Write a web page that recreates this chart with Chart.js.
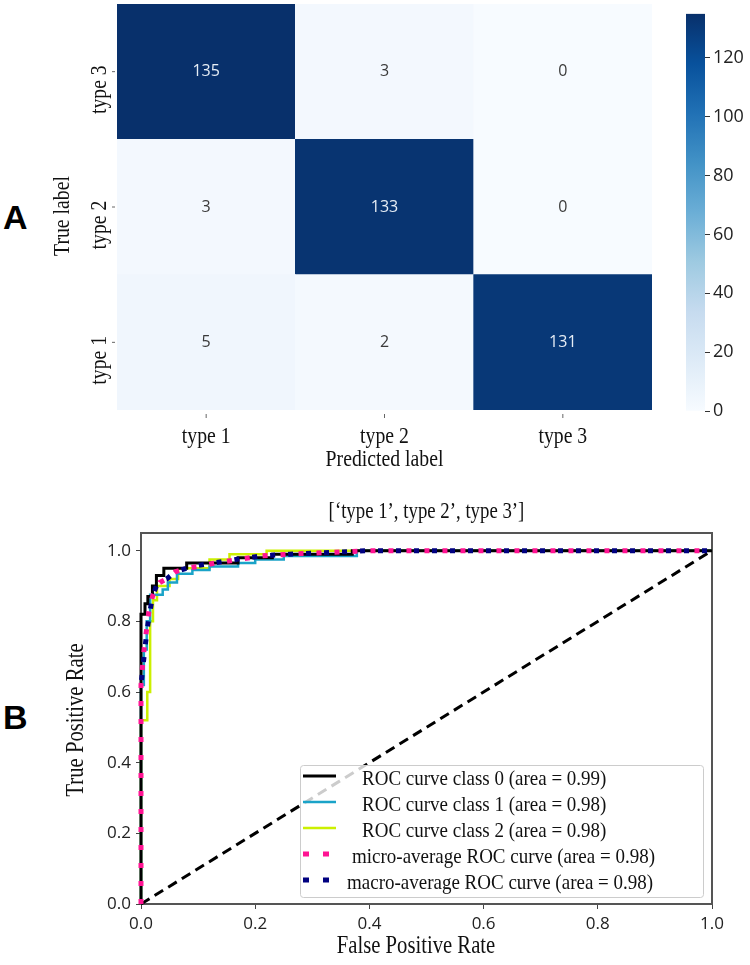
<!DOCTYPE html>
<html>
<head>
<meta charset="utf-8">
<title>Confusion matrix and ROC curves</title>
<script src="https://cdn.jsdelivr.net/npm/chart.js@4.4.1/dist/chart.umd.min.js"></script>
<style>
  html, body { margin: 0; padding: 0; background: #fff; }
  #page { position: relative; width: 750px; height: 965px; overflow: hidden; }
  #page canvas { position: absolute; }
  .panel {
    position: absolute;
    font: bold 34px "Liberation Sans", Arial, sans-serif;
    line-height: 34px;
    color: #000;
  }
</style>
</head>
<body>
<div id="page">
  <div class="panel" style="left:3px; top:200px;">A</div>
  <div class="panel" style="left:3px; top:700px;">B</div>
  <canvas id="cm" width="680" height="470" style="left:0; top:0;"></canvas>
  <canvas id="cbar" width="70" height="470" style="left:680px; top:0;"></canvas>
  <canvas id="roc" width="750" height="495" style="left:0; top:470px;"></canvas>
</div>

<script>
// ---- confusion matrix (rows = true label, cols = predicted label)
const predLabels = ["type 1", "type 2", "type 3"];
const trueLabels = ["type 1", "type 2", "type 3"]; // bottom row first
const rowType1 = [5, 2, 131];
const rowType2 = [3, 133, 0];
const rowType3 = [135, 3, 0];
const cbarTicks = [0, 20, 40, 60, 80, 100, 120];

// ---- ROC curves
const fprClass0 = [0, 0, 0.007, 0.007, 0.012, 0.012, 0.02, 0.02, 0.027, 0.027, 0.04, 0.04, 0.08, 0.08, 0.17, 0.17, 0.23, 0.23, 0.37, 0.37, 1];
const tprClass0 = [0, 0.82, 0.82, 0.85, 0.85, 0.87, 0.87, 0.9, 0.9, 0.93, 0.93, 0.95, 0.95, 0.965, 0.965, 0.98, 0.98, 0.99, 0.99, 1, 1];
const fprClass1 = [0, 0, 0.005, 0.005, 0.01, 0.01, 0.016, 0.016, 0.038, 0.038, 0.047, 0.047, 0.063, 0.063, 0.09, 0.09, 0.12, 0.12, 0.17, 0.17, 0.2, 0.2, 0.25, 0.25, 0.378, 0.378, 1];
const tprClass1 = [0, 0.62, 0.62, 0.72, 0.72, 0.8, 0.8, 0.875, 0.875, 0.89, 0.89, 0.91, 0.91, 0.935, 0.935, 0.945, 0.945, 0.955, 0.955, 0.965, 0.965, 0.975, 0.975, 0.985, 0.985, 1, 1];
const fprClass2 = [0, 0, 0.011, 0.011, 0.016, 0.016, 0.021, 0.021, 0.028, 0.028, 0.05, 0.05, 0.065, 0.065, 0.12, 0.12, 0.155, 0.155, 0.22, 0.22, 1];
const tprClass2 = [0, 0.52, 0.52, 0.6, 0.6, 0.8, 0.8, 0.86, 0.86, 0.9, 0.9, 0.92, 0.92, 0.95, 0.95, 0.975, 0.975, 0.99, 0.99, 1, 1];
const fprMicro = [0, 0, 0.003, 0.006, 0.01, 0.014, 0.02, 0.025, 0.033, 0.045, 0.06, 0.08, 0.1, 0.13, 0.17, 0.21, 0.26, 0.33, 0.4, 1];
const tprMicro = [0, 0.62, 0.68, 0.73, 0.78, 0.83, 0.87, 0.89, 0.91, 0.92, 0.94, 0.95, 0.955, 0.965, 0.975, 0.985, 0.99, 0.995, 1, 1];
const fprMacro = [0, 0.004, 0.008, 0.012, 0.016, 0.02, 0.027, 0.035, 0.045, 0.06, 0.08, 0.1, 0.13, 0.17, 0.21, 0.26, 0.33, 0.4, 1];
const tprMacro = [0.62, 0.68, 0.74, 0.79, 0.83, 0.87, 0.9, 0.915, 0.92, 0.94, 0.95, 0.958, 0.966, 0.976, 0.985, 0.99, 0.995, 1, 1];
const fprDiag = [0, 1];
const tprDiag = [0, 1];
const rocTicks = [0, 0.2, 0.4, 0.6, 0.8, 1.0];
const legendLabels = [
  "ROC curve class 0 (area = 0.99)",
  "ROC curve class 1 (area = 0.98)",
  "ROC curve class 2 (area = 0.98)",
  "micro-average ROC curve (area = 0.98)",
  "macro-average ROC curve (area = 0.98)"
];
const rocTitle = "[\u2018type 1\u2019, type 2\u2019, type 3\u2019]";

const SERIF = '"Liberation Serif", "Times New Roman", serif';
const SANS = '"Open Sans", "Noto Sans", sans-serif';

// matplotlib "Blues"
const bluesStops = [
  [0, "#f7fbff"], [0.125, "#deebf7"], [0.25, "#c6dbef"], [0.375, "#9ecae1"],
  [0.5, "#6baed6"], [0.625, "#4292c6"], [0.75, "#2171b5"], [0.875, "#08519c"], [1, "#08306b"]
];
function hexRgb(h) {
  return [1, 3, 5].map(i => parseInt(h.slice(i, i + 2), 16));
}
function blues(t) {
  t = Math.max(0, Math.min(1, t));
  for (let i = 1; i < bluesStops.length; i++) {
    const [t1, c1] = bluesStops[i];
    const [t0, c0] = bluesStops[i - 1];
    if (t <= t1) {
      const f = (t - t0) / (t1 - t0);
      const a = hexRgb(c0), b = hexRgb(c1);
      return "rgb(" + a.map((v, k) => Math.round(v + (b[k] - v) * f)).join(",") + ")";
    }
  }
  return bluesStops[bluesStops.length - 1][1];
}

// the source figure is squeezed sideways, so serif text is drawn a bit tall
function tallText(ctx, text, x, y, rot) {
  ctx.save();
  ctx.translate(x, y);
  if (rot) ctx.rotate(rot);
  ctx.scale(0.94, 1.12);
  ctx.fillText(text, 0, 0);
  ctx.restore();
}

const cmRows = [rowType1, rowType2, rowType3];
const vmax = Math.max(...cmRows.flat());

// ---------------- heatmap ----------------
const heatmapText = {
  id: "heatmapText",
  afterDatasetsDraw(chart) {
    const ctx = chart.ctx;
    ctx.save();
    ctx.font = "16px " + SANS;
    ctx.textAlign = "center";
    ctx.textBaseline = "middle";
    chart.data.datasets.forEach((ds, r) => {
      chart.getDatasetMeta(r).data.forEach((el, c) => {
        const v = cmRows[r][c];
        ctx.fillStyle = v > vmax / 2 ? "#e6edf5" : "#3a3a3a";
        ctx.fillText(String(v), el.x, (el.y + el.base) / 2);
      });
    });
    ctx.restore();
  },
  afterDraw(chart) {
    const { ctx, chartArea, scales } = chart;
    ctx.save();
    ctx.strokeStyle = "#666";
    ctx.lineWidth = 1;
    ctx.fillStyle = "#111";
    ctx.font = "21px " + SERIF;
    ctx.textAlign = "center";
    ctx.textBaseline = "middle";
    // x ticks
    predLabels.forEach((lab, c) => {
      const x = scales.x.getPixelForValue(c);
      ctx.beginPath();
      ctx.moveTo(x, chartArea.bottom + 4);
      ctx.lineTo(x, chartArea.bottom + 8);
      ctx.stroke();
      tallText(ctx, lab, x, 437);
    });
    tallText(ctx, "Predicted label", scales.x.getPixelForValue(1), 460);
    // y ticks (rotated)
    trueLabels.forEach((lab, r) => {
      const y = scales.y.getPixelForValue(r + 0.5);
      ctx.beginPath();
      ctx.moveTo(chartArea.left - 5, y);
      ctx.lineTo(chartArea.left - 2, y);
      ctx.stroke();
      tallText(ctx, lab, 100, y + 18, -Math.PI / 2);
    });
    tallText(ctx, "True label", 63, 216, -Math.PI / 2);
    ctx.restore();
  }
};

new Chart(document.getElementById("cm"), {
  type: "bar",
  data: {
    labels: predLabels,
    datasets: cmRows.map((row, r) => ({
      label: trueLabels[r],
      data: row.map(() => [r, r + 1]),
      backgroundColor: row.map(v => blues(v / vmax)),
      borderWidth: 0,
      grouped: false,
      barPercentage: 1,
      categoryPercentage: 1
    }))
  },
  options: {
    responsive: false,
    animation: false,
    layout: { padding: { left: 117, right: 28, top: 4, bottom: 60 } },
    plugins: { legend: { display: false }, tooltip: { enabled: false } },
    scales: {
      x: { display: false },
      y: { display: false, min: 0, max: 3 }
    }
  },
  plugins: [heatmapText]
});

// ---------------- colour bar ----------------
new Chart(document.getElementById("cbar"), {
  type: "bar",
  data: {
    labels: [""],
    datasets: [{
      data: [[0, vmax]],
      barPercentage: 1,
      categoryPercentage: 1,
      borderWidth: 0,
      backgroundColor: (c) => {
        const area = c.chart.chartArea;
        if (!area) return blues(1);
        const g = c.chart.ctx.createLinearGradient(0, area.bottom, 0, area.top);
        bluesStops.forEach(([t, col]) => g.addColorStop(t, col));
        return g;
      }
    }]
  },
  options: {
    responsive: false,
    animation: false,
    layout: { padding: { left: 6, right: 0, top: 4, bottom: 59 } },
    plugins: { legend: { display: false }, tooltip: { enabled: false } },
    scales: {
      x: { display: false },
      y: {
        position: "right",
        min: 0,
        max: vmax,
        afterFit: (s) => { s.width = 45; },
        afterBuildTicks: (s) => { s.ticks = cbarTicks.map(v => ({ value: v })); },
        border: { display: false },
        grid: { drawOnChartArea: false, drawTicks: true, tickLength: 5, color: "#333" },
        ticks: { padding: 3, color: "#222", font: { family: SANS, size: 18 } }
      }
    }
  }
});

// ---------------- ROC ----------------
function pts(xs, ys) { return xs.map((x, i) => ({ x: x, y: ys[i] })); }

const styleClass0 = { color: "#000000", width: 3, dash: [] };
const styleClass1 = { color: "#1aa3c8", width: 2.5, dash: [] };
const styleClass2 = { color: "#ccf000", width: 2.5, dash: [] };
const styleMicro = { color: "#ff1493", width: 5, dash: [5, 13], offset: 0 };
const styleMacro = { color: "#000080", width: 5, dash: [5, 13], offset: 13 };
const legendStyles = [styleClass0, styleClass1, styleClass2, styleMicro, styleMacro];

function lineDs(label, xs, ys, st) {
  return {
    label: label,
    data: pts(xs, ys),
    borderColor: st.color,
    borderWidth: st.width,
    borderDash: st.dash,
    borderDashOffset: st.offset || 0,
    borderCapStyle: "butt",
    pointRadius: 0,
    tension: 0,
    fill: false,
    clip: false
  };
}

// first dataset is drawn on top
const rocDatasets = [
  lineDs(legendLabels[4], fprMacro, tprMacro, styleMacro),
  lineDs(legendLabels[3], fprMicro, tprMicro, styleMicro),
  lineDs(legendLabels[0], fprClass0, tprClass0, styleClass0),
  lineDs(legendLabels[1], fprClass1, tprClass1, styleClass1),
  lineDs(legendLabels[2], fprClass2, tprClass2, styleClass2),
  lineDs("chance", fprDiag, tprDiag, { color: "#000000", width: 3, dash: [10, 6] })
];

const rocDecor = {
  id: "rocDecor",
  beforeDatasetsDraw(chart) {
    const { ctx, chartArea: a } = chart;
    ctx.save();
    ctx.strokeStyle = "#555";
    ctx.lineWidth = 2;
    ctx.strokeRect(a.left, a.top, a.right - a.left, a.bottom - a.top);
    ctx.restore();
  },
  afterDraw(chart) {
    const { ctx, chartArea: a } = chart;
    ctx.save();
    ctx.fillStyle = "#111";
    ctx.textAlign = "center";
    ctx.textBaseline = "middle";
    ctx.font = "20px " + SERIF;
    tallText(ctx, rocTitle, (a.left + a.right) / 2, 42);
    ctx.font = "22px " + SERIF;
    tallText(ctx, "False Positive Rate", 416, 477);
    tallText(ctx, "True Positive Rate", 77, 250, -Math.PI / 2);

    // legend box
    const bx = 300, by = 295, bw = 403, bh = 132;
    ctx.fillStyle = "rgba(255,255,255,0.8)";
    ctx.strokeStyle = "#cccccc";
    ctx.lineWidth = 1;
    ctx.beginPath();
    ctx.roundRect(bx + 0.5, by + 0.5, bw, bh, 3);
    ctx.fill();
    ctx.stroke();
    const textLeft = [362, 362, 362, 352, 347];
    ctx.textAlign = "left";
    ctx.font = "19px " + SERIF;
    legendLabels.forEach((lab, i) => {
      const st = legendStyles[i];
      const y = by + 11 + 26 * i;
      ctx.save();
      ctx.strokeStyle = st.color;
      ctx.lineWidth = st.width;
      ctx.lineCap = "butt";
      ctx.setLineDash(st.dash.length ? [6, 14] : []);
      ctx.beginPath();
      ctx.moveTo(303, y);
      ctx.lineTo(336, y);
      ctx.stroke();
      ctx.restore();
      ctx.fillStyle = "#111";
      ctx.save();
      ctx.translate(textLeft[i], y + 4);
      ctx.scale(1, 1.08);
      ctx.fillText(lab, 0, 0);
      ctx.restore();
    });
    ctx.restore();
  }
};

new Chart(document.getElementById("roc"), {
  type: "line",
  data: { datasets: rocDatasets },
  options: {
    responsive: false,
    animation: false,
    layout: { padding: { left: 0, right: 38, top: 63, bottom: 0 } },
    plugins: { legend: { display: false }, tooltip: { enabled: false } },
    scales: {
      x: {
        type: "linear",
        min: 0,
        max: 1,
        afterFit: (s) => { s.height = 61; },
        afterBuildTicks: (s) => { s.ticks = rocTicks.map(v => ({ value: v })); },
        border: { display: false },
        grid: { drawOnChartArea: false, drawTicks: true, tickLength: 5, color: "#444" },
        ticks: { padding: 5, maxRotation: 0, color: "#222", font: { family: SANS, size: 17 },
                 callback: (v) => Number(v).toFixed(1) }
      },
      y: {
        type: "linear",
        min: 0,
        max: 1.05,
        afterFit: (s) => { s.width = 141; },
        afterBuildTicks: (s) => { s.ticks = rocTicks.map(v => ({ value: v })); },
        border: { display: false },
        grid: { drawOnChartArea: false, drawTicks: true, tickLength: 5, color: "#444" },
        ticks: { padding: 5, color: "#222", font: { family: SANS, size: 17 },
                 callback: (v) => Number(v).toFixed(1) }
      }
    }
  },
  plugins: [rocDecor]
});
</script>
</body>
</html>
